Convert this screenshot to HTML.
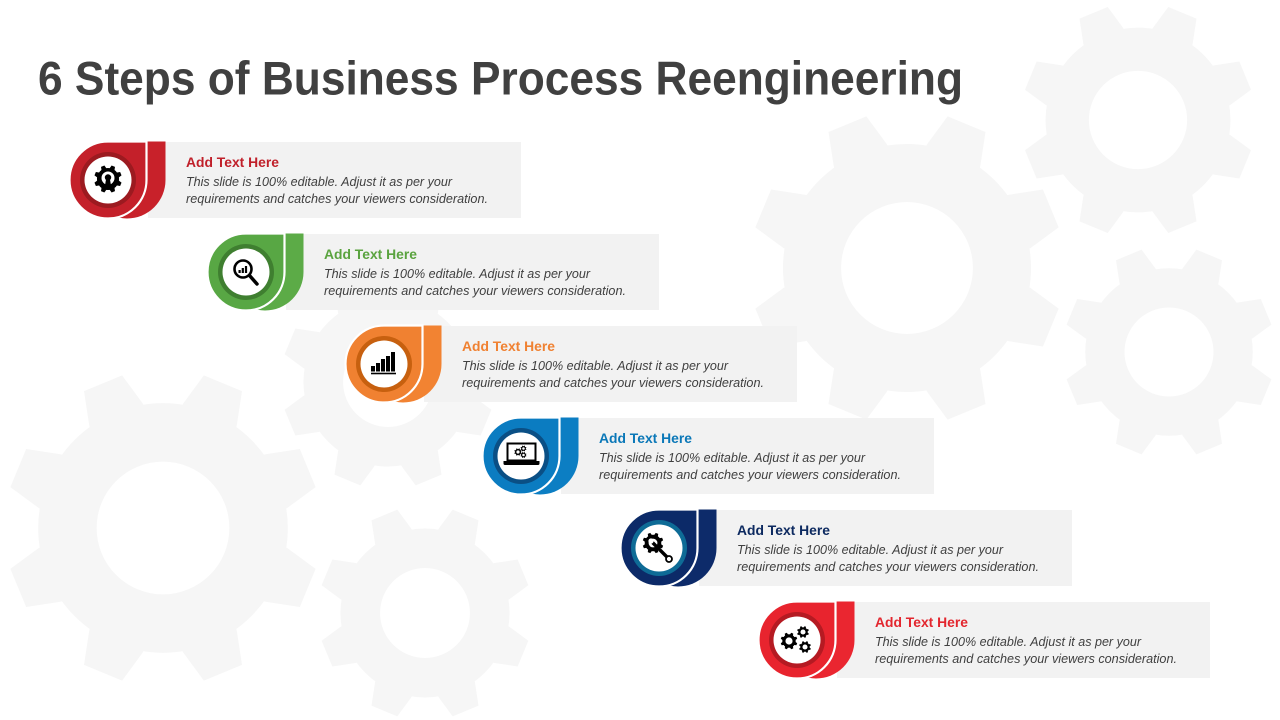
<!DOCTYPE html>
<html>
<head>
<meta charset="utf-8">
<style>
html,body{margin:0;padding:0;background:#fff;}
svg{display:block;}
text{font-family:"Liberation Sans",Arial,sans-serif;}
.h{font-weight:bold;font-size:13.5px;}
.b{font-style:italic;font-size:12.7px;fill:#404040;}
</style>
</head>
<body>
<svg width="1280" height="720" viewBox="0 0 1280 720" xmlns="http://www.w3.org/2000/svg">
<defs>
<polygon id="tooth" points="-13.05,-99.14 13.05,-99.14 18.27,-77.89 19,-70 -19,-70 -18.27,-77.89"/>
<g id="gear">
<circle r="79"/>
<use href="#tooth" transform="rotate(22.5)"/>
<use href="#tooth" transform="rotate(67.5)"/>
<use href="#tooth" transform="rotate(112.5)"/>
<use href="#tooth" transform="rotate(157.5)"/>
<use href="#tooth" transform="rotate(202.5)"/>
<use href="#tooth" transform="rotate(247.5)"/>
<use href="#tooth" transform="rotate(292.5)"/>
<use href="#tooth" transform="rotate(337.5)"/>
<circle r="42" fill="#fff"/>
</g>
<path id="drop" d="M0,-38.5 H38.5 V0 A38.5,38.5 0 0 1 0,38.5 A38.5,38.5 0 0 1 0,-38.5 Z"/>
</defs>

<!-- background gears -->
<g fill="#f6f6f6">
<use href="#gear" transform="translate(1138,120) scale(1.17)"/>
<use href="#gear" transform="translate(907,268) scale(1.57)"/>
<use href="#gear" transform="translate(1169,352) scale(1.06)"/>
<use href="#gear" transform="translate(163,528) scale(1.58)"/>
<use href="#gear" transform="translate(425,613) scale(1.07)"/>
<use href="#gear" transform="translate(388,382) scale(1.07)"/>
</g>

<!-- title -->
<text x="38" y="94.5" font-size="47" font-weight="bold" fill="#404040" textLength="925" lengthAdjust="spacingAndGlyphs">6 Steps of Business Process Reengineering</text>

<!-- Row 1 -->
<g transform="translate(108,180)">
<rect x="40" y="-38" width="373" height="76" fill="#f2f2f2"/>
<use href="#drop" x="19" fill="#c8212a"/>
<use href="#drop" fill="#c4202a" stroke="#fff" stroke-width="2.2"/>
<circle r="28" fill="#9c1a20"/>
<circle r="23.5" fill="#fff"/>
<use href="#gear" transform="translate(0,-1) scale(0.14)" fill="#000"/>
<circle cx="0" cy="-2" r="6.5" fill="#fff"/>
<circle cx="0" cy="-2.5" r="3.2" fill="#000"/>
<path d="M-1.8,-1.5 L1.8,-1.5 L3.5,8 L-3.5,8 Z" fill="#000"/>
<text class="h" x="78" y="-13" fill="#c0202a" textLength="93" lengthAdjust="spacingAndGlyphs">Add Text Here</text>
<text class="b" x="78" y="6" textLength="266" lengthAdjust="spacingAndGlyphs">This slide is 100% editable. Adjust it as per your</text>
<text class="b" x="78" y="23" textLength="302" lengthAdjust="spacingAndGlyphs">requirements and catches your viewers consideration.</text>
</g>

<!-- Row 2 -->
<g transform="translate(246,272)">
<rect x="40" y="-38" width="373" height="76" fill="#f2f2f2"/>
<use href="#drop" x="19" fill="#5cab47"/>
<use href="#drop" fill="#58a744" stroke="#fff" stroke-width="2.2"/>
<circle r="28" fill="#3f7f30"/>
<circle r="23.5" fill="#fff"/>
<circle cx="-3" cy="-3" r="8.5" fill="none" stroke="#000" stroke-width="2.6"/>
<line x1="3.5" y1="3.5" x2="11" y2="12" stroke="#000" stroke-width="3.5" stroke-linecap="round"/>
<rect x="-7.5" y="-2" width="2.2" height="3" fill="#000"/>
<rect x="-4.3" y="-4" width="2.2" height="5" fill="#000"/>
<rect x="-1.1" y="-6" width="2.2" height="7" fill="#000"/>
<text class="h" x="78" y="-13" fill="#5aa33f" textLength="93" lengthAdjust="spacingAndGlyphs">Add Text Here</text>
<text class="b" x="78" y="6" textLength="266" lengthAdjust="spacingAndGlyphs">This slide is 100% editable. Adjust it as per your</text>
<text class="b" x="78" y="23" textLength="302" lengthAdjust="spacingAndGlyphs">requirements and catches your viewers consideration.</text>
</g>

<!-- Row 3 -->
<g transform="translate(384,364)">
<rect x="40" y="-38" width="373" height="76" fill="#f2f2f2"/>
<use href="#drop" x="19" fill="#f28332"/>
<use href="#drop" fill="#f08131" stroke="#fff" stroke-width="2.2"/>
<circle r="28" fill="#c7600f"/>
<circle r="23.5" fill="#fff"/>
<rect x="-13" y="2" width="4" height="5.5" fill="#000"/>
<rect x="-8" y="-1" width="4" height="8.5" fill="#000"/>
<rect x="-3" y="-5" width="4" height="12.5" fill="#000"/>
<rect x="2" y="-8" width="4" height="15.5" fill="#000"/>
<rect x="7" y="-12" width="4" height="19.5" fill="#000"/>
<rect x="-13" y="8.7" width="25" height="1.6" fill="#000"/>
<text class="h" x="78" y="-13" fill="#f08131" textLength="93" lengthAdjust="spacingAndGlyphs">Add Text Here</text>
<text class="b" x="78" y="6" textLength="266" lengthAdjust="spacingAndGlyphs">This slide is 100% editable. Adjust it as per your</text>
<text class="b" x="78" y="23" textLength="302" lengthAdjust="spacingAndGlyphs">requirements and catches your viewers consideration.</text>
</g>

<!-- Row 4 -->
<g transform="translate(521,456)">
<rect x="40" y="-38" width="373" height="76" fill="#f2f2f2"/>
<use href="#drop" x="19" fill="#0c7ec3"/>
<use href="#drop" fill="#0b7cc1" stroke="#fff" stroke-width="2.2"/>
<circle r="28" fill="#0a4f85"/>
<circle r="23.5" fill="#fff"/>
<rect x="-13.5" y="-12.5" width="28" height="17" fill="none" stroke="#000" stroke-width="2"/>
<path d="M-17.5,5 H18.5 V7.5 Q18.5,9 17,9 H-16 Q-17.5,9 -17.5,7.5 Z" fill="#000"/>
<use href="#gear" transform="translate(-3,-4) scale(0.038)" fill="#000"/>
<use href="#gear" transform="translate(2.5,-7.5) scale(0.03)" fill="#000"/>
<use href="#gear" transform="translate(2.5,-1) scale(0.03)" fill="#000"/>
<text class="h" x="78" y="-13" fill="#0b78b8" textLength="93" lengthAdjust="spacingAndGlyphs">Add Text Here</text>
<text class="b" x="78" y="6" textLength="266" lengthAdjust="spacingAndGlyphs">This slide is 100% editable. Adjust it as per your</text>
<text class="b" x="78" y="23" textLength="302" lengthAdjust="spacingAndGlyphs">requirements and catches your viewers consideration.</text>
</g>

<!-- Row 5 -->
<g transform="translate(659,548)">
<rect x="40" y="-38" width="373" height="76" fill="#f2f2f2"/>
<use href="#drop" x="19" fill="#0d2b6a"/>
<use href="#drop" fill="#0c2a68" stroke="#fff" stroke-width="2.2"/>
<circle r="28" fill="#0e6b96"/>
<circle r="23.5" fill="#fff"/>
<use href="#gear" transform="translate(-6,-5) scale(0.105)" fill="#000"/>
<line x1="-6" y1="-5" x2="8.5" y2="9.5" stroke="#000" stroke-width="3.4" stroke-linecap="round"/>
<circle cx="-8" cy="-7" r="2.6" fill="#fff"/>
<circle cx="10" cy="11" r="3" fill="#fff" stroke="#000" stroke-width="1.8"/>
<text class="h" x="78" y="-13" fill="#0d2a60" textLength="93" lengthAdjust="spacingAndGlyphs">Add Text Here</text>
<text class="b" x="78" y="6" textLength="266" lengthAdjust="spacingAndGlyphs">This slide is 100% editable. Adjust it as per your</text>
<text class="b" x="78" y="23" textLength="302" lengthAdjust="spacingAndGlyphs">requirements and catches your viewers consideration.</text>
</g>

<!-- Row 6 -->
<g transform="translate(797,640)">
<rect x="40" y="-38" width="373" height="76" fill="#f2f2f2"/>
<use href="#drop" x="19" fill="#ea2630"/>
<use href="#drop" fill="#e8242e" stroke="#fff" stroke-width="2.2"/>
<circle r="28" fill="#b51a22"/>
<circle r="23.5" fill="#fff"/>
<use href="#gear" transform="translate(-8,1) scale(0.085)" fill="#000"/>
<use href="#gear" transform="translate(6,-8) scale(0.06)" fill="#000"/>
<use href="#gear" transform="translate(8,7) scale(0.06)" fill="#000"/>
<text class="h" x="78" y="-13" fill="#e3262e" textLength="93" lengthAdjust="spacingAndGlyphs">Add Text Here</text>
<text class="b" x="78" y="6" textLength="266" lengthAdjust="spacingAndGlyphs">This slide is 100% editable. Adjust it as per your</text>
<text class="b" x="78" y="23" textLength="302" lengthAdjust="spacingAndGlyphs">requirements and catches your viewers consideration.</text>
</g>
</svg>
</body>
</html>
